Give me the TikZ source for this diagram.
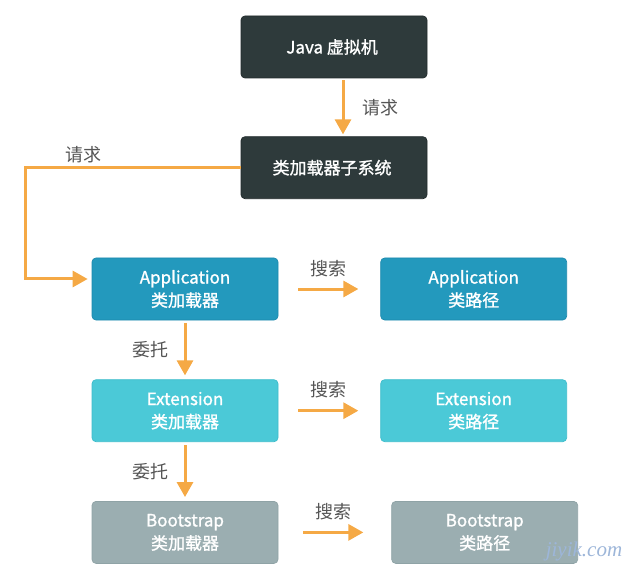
\documentclass[tikz,border=0pt]{standalone}
\usepackage{fontspec}
\setmainfont{Noto Sans CJK SC}
\newfontfamily\boxfont{Noto Sans CJK SC}[FakeBold=1.2]
\newfontfamily\markfont{Liberation Serif}
\usepackage{tikz}
\usetikzlibrary{
  arrows.meta,
  positioning
}
\definecolor{VmDark}{HTML}{2E3A3B}
\definecolor{VmEdge}{HTML}{222B2C}
\definecolor{AppBlue}{HTML}{2399BD}
\definecolor{AppEdge}{HTML}{1D8AAE}
\definecolor{ExtCyan}{HTML}{4BC9D7}
\definecolor{ExtEdge}{HTML}{3DBCCB}
\definecolor{BootGray}{HTML}{9BAEB1}
\definecolor{BootEdge}{HTML}{8FA3A6}
\definecolor{FlowOrange}{HTML}{F5A945}
\definecolor{NoteGray}{HTML}{555555}
\definecolor{MarkBlue}{HTML}{9DB6D9}
\tikzset{
  box/.style={
    draw,
    rounded corners=4pt,
    line width=0.7pt,
    align=center,
    text=white,
    minimum width=186pt,
    minimum height=62pt,
    font=\boxfont\fontsize{17}{23}\selectfont
  },
  vmbox/.style={
    box,
    fill=VmDark,
    draw=VmEdge
  },
  appbox/.style={
    box,
    fill=AppBlue,
    draw=AppEdge
  },
  extbox/.style={
    box,
    fill=ExtCyan,
    draw=ExtEdge
  },
  bootbox/.style={
    box,
    fill=BootGray,
    draw=BootEdge
  },
  flow/.style={
    -{Triangle[length=15pt,width=16pt]},
    line width=3pt,
    draw=FlowOrange
  },
  note/.style={
    font=\fontsize{18}{20}\selectfont,
    text=NoteGray,
    inner sep=1pt
  }
}

\begin{document}
\begin{tikzpicture}[x=1pt,y=1pt]

  \useasboundingbox (0,0) rectangle (630,-583);

  \node[vmbox] (jvm) at (334,-47) {
    Java 虚拟机
  };

  \node[
    vmbox,
    below=58pt of jvm
  ] (subsys) {
    类加载器子系统
  };

  \node[appbox] (apploader) at (185,-289) {
    Application\\
    类加载器
  };

  \node[
    appbox,
    right=102pt of apploader
  ] (apppath) {
    Application\\
    类路径
  };

  \node[
    extbox,
    below=59pt of apploader
  ] (extloader) {
    Extension\\
    类加载器
  };

  \node[
    extbox,
    right=102pt of extloader
  ] (extpath) {
    Extension\\
    类路径
  };

  \node[
    bootbox,
    below=59pt of extloader
  ] (bootloader) {
    Bootstrap\\
    类加载器
  };

  \node[
    bootbox,
    right=113pt of bootloader
  ] (bootpath) {
    Bootstrap\\
    类路径
  };

  % requests
  \draw[flow, shorten <=2pt, shorten >=2pt]
  ([xshift=9pt]jvm.south) --
  node[
    note,
    right=17pt
  ] {
    请求
  }
  ([xshift=9pt]subsys.north);

  \draw[flow, shorten >=4pt]
  (subsys.west) --
  node[
    note,
    pos=0.73,
    above=2pt
  ] {
    请求
  }
  ++(-215,0) |-
  ([yshift=10pt]apploader.west);

  % delegation
  \draw[flow, shorten <=3pt, shorten >=4pt]
  (apploader) --
  node[
    note,
    left=14pt
  ] {
    委托
  }
  (extloader);

  \draw[flow, shorten <=3pt, shorten >=4pt]
  (extloader) --
  node[
    note,
    left=14pt
  ] {
    委托
  }
  (bootloader);

  % search
  \draw[flow]
  ([xshift=20pt]apploader.east) --
  node[
    note,
    above=10pt
  ] {
    搜索
  }
  ([xshift=-22pt]apppath.west);

  \draw[flow]
  ([xshift=20pt]extloader.east) --
  node[
    note,
    above=10pt
  ] {
    搜索
  }
  ([xshift=-22pt]extpath.west);

  \draw[flow]
  ([xshift=25pt]bootloader.east) --
  node[
    note,
    above=10pt
  ] {
    搜索
  }
  ([xshift=-28pt]bootpath.west);

  \node[
    text=MarkBlue,
    font=\markfont\itshape\fontsize{21}{22}\selectfont
  ] (mark) at (584,-551) {
    jiyik.com
  };

\end{tikzpicture}
\end{document}
